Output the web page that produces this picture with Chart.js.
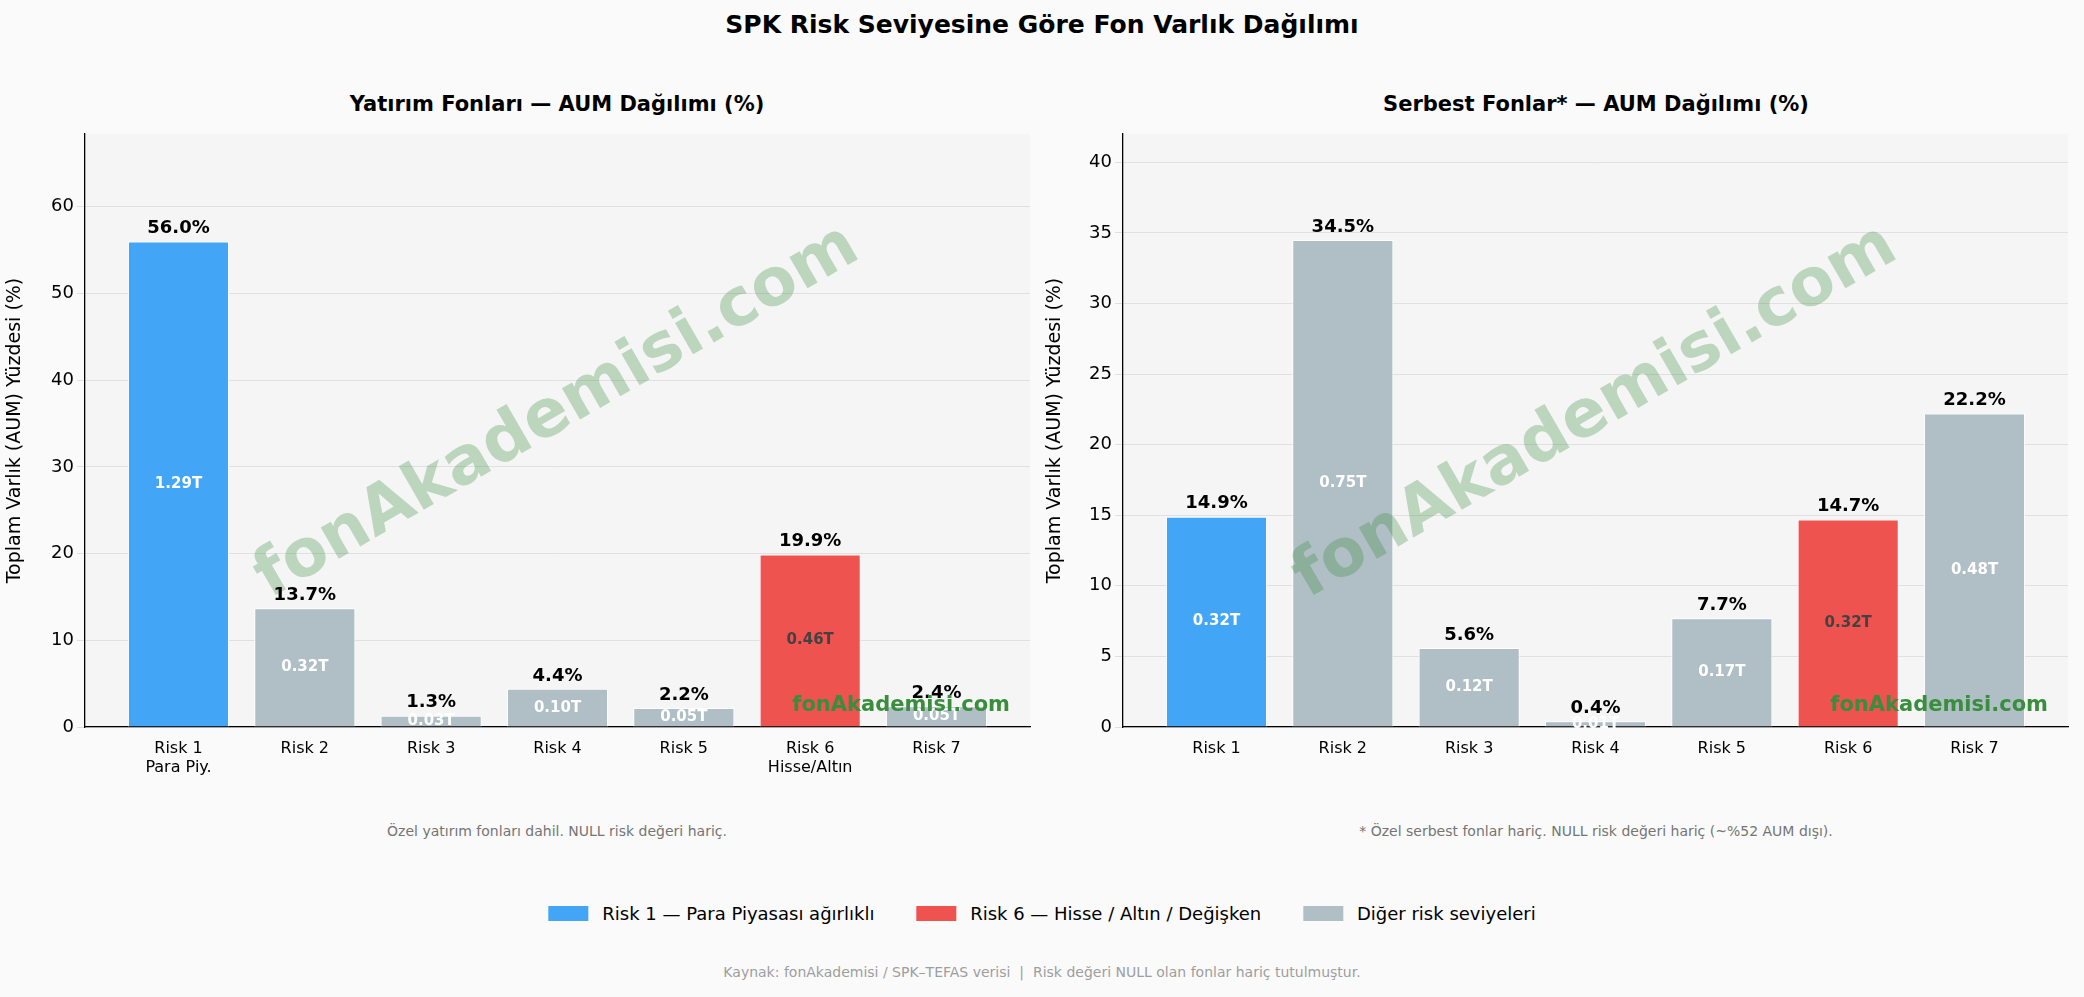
<!DOCTYPE html>
<html><head><meta charset="utf-8">
<script src="https://cdn.jsdelivr.net/npm/chart.js@4"></script>
<style>
body{margin:0;width:2084px;height:997px;background:#fafafa;font-family:"DejaVu Sans",sans-serif;position:relative;overflow:hidden}
.t{position:absolute;white-space:nowrap;transform:translateX(-50%)}
canvas{position:absolute}
.lg{display:inline-flex;align-items:center;margin:0 18px}
.sw{display:inline-block;width:40px;height:15px;margin-right:14px}
</style></head><body>
<div class="t" style="left:1042px;top:10px;font-size:25px;font-weight:bold">SPK Risk Seviyesine Göre Fon Varlık Dağılımı</div>
<div class="t" style="left:557px;top:92px;font-size:21px;font-weight:bold">Yatırım Fonları — AUM Dağılımı (%)</div>
<div class="t" style="left:1596px;top:92px;font-size:21px;font-weight:bold">Serbest Fonlar* — AUM Dağılımı (%)</div>
<div class="t" style="left:557px;top:823px;font-size:14px;color:#757575">Özel yatırım fonları dahil. NULL risk değeri hariç.</div>
<div class="t" style="left:1596px;top:823px;font-size:14px;color:#757575">* Özel serbest fonlar hariç. NULL risk değeri hariç (~%52 AUM dışı).</div>
<div class="t" style="left:1042px;top:903px;font-size:18px">
<span class="lg"><span class="sw" style="background:#42a5f5"></span>Risk 1 — Para Piyasası ağırlıklı</span>
<span class="lg"><span class="sw" style="background:#ef5350"></span>Risk 6 — Hisse / Altın / Değişken</span>
<span class="lg"><span class="sw" style="background:#b0bec5"></span>Diğer risk seviyeleri</span></div>
<div class="t" style="left:1042px;top:964px;font-size:14px;color:#9e9e9e">Kaynak: fonAkademisi / SPK–TEFAS verisi &nbsp;|&nbsp; Risk değeri NULL olan fonlar hariç tutulmuştur.</div>
<canvas id="c1" style="left:0;top:100px"></canvas>
<canvas id="c2" style="left:1040px;top:100px"></canvas>
<script>
const leftLabels=[['Risk 1','Para Piy.'],'Risk 2','Risk 3','Risk 4','Risk 5',['Risk 6','Hisse/Altın'],'Risk 7'];
const rightLabels=['Risk 1','Risk 2','Risk 3','Risk 4','Risk 5','Risk 6','Risk 7'];
const leftPct=[56.0,13.7,1.3,4.4,2.2,19.9,2.4];
const leftAum=['1.29T','0.32T','0.03T','0.10T','0.05T','0.46T','0.05T'];
const rightPct=[14.9,34.5,5.6,0.4,7.7,14.7,22.2];
const rightAum=['0.32T','0.75T','0.12T','0.01T','0.17T','0.32T','0.48T'];
const colors=['#42a5f5','#b0bec5','#b0bec5','#b0bec5','#b0bec5','#ef5350','#b0bec5'];
const F='"DejaVu Sans", sans-serif';
function make(id,w,yw,labels,pct,aum,ymax,step){
  const cv=document.getElementById(id);cv.width=w;cv.height=700;cv.style.width=w+'px';cv.style.height='700px';
  new Chart(cv,{type:'bar',
    data:{datasets:[{data:pct.map((v,i)=>({x:i,y:v})),backgroundColor:colors,borderColor:'#fff',borderWidth:1,barPercentage:0.8,categoryPercentage:1}]},
    options:{responsive:false,animation:false,layout:{padding:{top:34,right:w-yw-945,left:0,bottom:0}},
      plugins:{legend:{display:false},tooltip:{enabled:false}},
      scales:{
        x:{type:'linear',offset:false,min:-0.74,max:6.74,grid:{display:false},border:{color:'#000',width:1.3},
          afterBuildTicks:s=>{s.ticks=[0,1,2,3,4,5,6].map(v=>({value:v}));},
          afterFit:s=>{s.height=73;},
          ticks:{color:'#000',font:{family:F,size:16},padding:4,callback:v=>labels[v]}},
        y:{min:0,max:ymax,grid:{color:'#e0e0e0'},border:{color:'#000',width:1.3},
          afterFit:s=>{s.width=yw;},
          afterBuildTicks:s=>{const t=[];for(let v=0;v<=ymax;v+=step)t.push({value:v});s.ticks=t;},
          title:{display:true,text:'Toplam Varlık (AUM) Yüzdesi (%)',font:{family:F,size:19},color:'#000'},
          ticks:{color:'#000',font:{family:F,size:18}}}}},
    plugins:[{id:'bg',beforeDraw(c){const a=c.chartArea,x=c.ctx;x.save();x.fillStyle='#f5f5f5';x.fillRect(a.left,a.top,a.width,a.height);x.restore();}},
     {id:'lab',afterDraw(c){const x=c.ctx,a=c.chartArea,m=c.getDatasetMeta(0);x.save();
      x.translate((a.left+a.right)/2,a.top+0.47*a.height);x.rotate(-30*Math.PI/180);
      x.fillStyle='rgba(56,142,60,0.3)';x.font='bold 66px '+F;x.textAlign='center';x.textBaseline='middle';x.fillText('fonAkademisi.com',0,0);x.restore();
      x.save();x.textAlign='center';
      m.data.forEach((b,i)=>{x.fillStyle='#000';x.font='bold 18px '+F;x.textBaseline='bottom';x.fillText(pct[i].toFixed(1)+'%',b.x,b.y-4);
        x.fillStyle=i==5?'#424242':'#fff';x.font='bold 15px '+F;x.textBaseline='middle';x.fillText(aum[i],b.x,(b.y+b.base)/2);});
      x.fillStyle='#388e3c';x.font='bold 21px '+F;x.textAlign='right';x.textBaseline='alphabetic';x.fillText('fonAkademisi.com',a.right-20,a.bottom-16);
      x.restore();}}]});
}
make('c1',1040,85,leftLabels,leftPct,leftAum,68.4,10);
make('c2',1044,83,rightLabels,rightPct,rightAum,42,5);
</script></body></html>
